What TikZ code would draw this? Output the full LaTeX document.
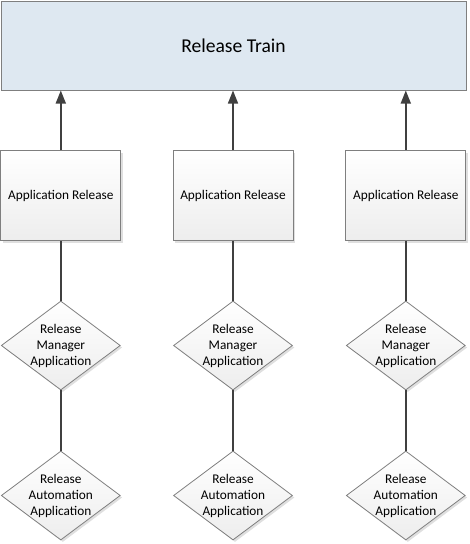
\documentclass[tikz,border=0pt]{standalone}
\usepackage{fontspec}
\setmainfont{Carlito}
\usetikzlibrary{shapes.geometric,arrows.meta,shadows}

\definecolor{trainfill}{HTML}{DEE8F1}
\definecolor{edgegray}{HTML}{7F7F7F}
\definecolor{linkgray}{HTML}{404040}

\tikzset{
  trainbox/.style={draw=edgegray,fill=trainfill,line width=1pt,minimum width=465pt,minimum height=89pt,font=\fontsize{19.6}{22}\selectfont},
  relbox/.style={draw=edgegray,top color=white,bottom color=gray!14,line width=1pt,minimum width=120pt,minimum height=90pt,inner sep=0pt,font=\fontsize{13.3}{16}\selectfont,drop shadow={opacity=0.25,shadow xshift=2pt,shadow yshift=-2pt}},
  appdiamond/.style={diamond,draw=edgegray,top color=white,bottom color=gray!14,line width=0.8pt,minimum width=119pt,minimum height=89pt,shape aspect=1.34,inner sep=-8pt,align=center,font=\fontsize{13.3}{16}\selectfont,drop shadow={opacity=0.25,shadow xshift=2pt,shadow yshift=-2pt}},
  feed/.style={draw=linkgray,line width=1.5pt,-{Triangle[length=13pt,width=10pt]}},
  tie/.style={draw=linkgray,line width=1.5pt}
}

\begin{document}
\begin{tikzpicture}[x=1pt,y=1pt]
\useasboundingbox (0,0) rectangle (469,-544);

% the train on top
\node[trainbox] (train) at (233.5,-45.5) {Release Train};

% application releases
\node[relbox] (relA) at (60.8,-195.5) {Application Release};
\node[relbox] (relB) at (233,-195.5) {Application Release};
\node[relbox] (relC) at (405.8,-195.5) {Application Release};

% release manager applications
\node[appdiamond] (mgrA) at (60.8,-345.5) {Release\\Manager\\Application};
\node[appdiamond] (mgrB) at (233,-345.5) {Release\\Manager\\Application};
\node[appdiamond] (mgrC) at (405.8,-345.5) {Release\\Manager\\Application};

% release automation applications
\node[appdiamond] (autoA) at (60.8,-495.5) {Release\\Automation\\Application};
\node[appdiamond] (autoB) at (233,-495.5) {Release\\Automation\\Application};
\node[appdiamond] (autoC) at (405.8,-495.5) {Release\\Automation\\Application};

\draw[feed] (relA.north) -- (relA.north |- train.south);
\draw[feed] (relB.north) -- (relB.north |- train.south);
\draw[feed] (relC.north) -- (relC.north |- train.south);

\draw[tie] (relA.south) -- (mgrA.north);
\draw[tie] (relB.south) -- (mgrB.north);
\draw[tie] (relC.south) -- (mgrC.north);

\draw[tie] (mgrA.south) -- (autoA.north);
\draw[tie] (mgrB.south) -- (autoB.north);
\draw[tie] (mgrC.south) -- (autoC.north);
\end{tikzpicture}
\end{document}
